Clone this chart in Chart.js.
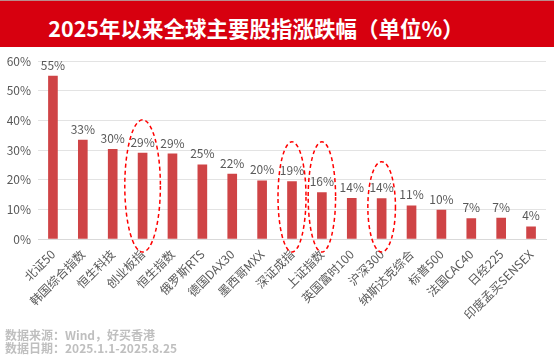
<!DOCTYPE html>
<html>
<head>
<meta charset="utf-8">
<script src="https://cdn.jsdelivr.net/npm/chart.js@4.4.1/dist/chart.umd.min.js"></script>
<style>
  html, body { margin: 0; padding: 0; background: #ffffff; }
  body { width: 554px; height: 359px; position: relative; overflow: hidden; font-family: "Noto Sans CJK SC", "Noto Sans", sans-serif; }
  #header { position: absolute; left: 0; top: 0; width: 554px; height: 47px; background: #D7000F; border-top: 1px solid #b98c8c; box-sizing: border-box; }
  #title { position: absolute; left: 0; top: 0; width: 512px; height: 47px; line-height: 54px; text-align: center; color: #ffffff; font-weight: bold; font-size: 21.5px; white-space: nowrap; }
  #wrap { position: absolute; left: 0; top: 47px; width: 554px; height: 292px; }
  #footer { position: absolute; left: 5px; top: 328px; color: #BFBFBF; font-weight: bold; font-size: 12px; line-height: 13px; white-space: nowrap; }
</style>
</head>
<body>
<div id="header"><div id="title">2025年以来全球主要股指涨跌幅（单位%）</div></div>
<div id="wrap"><canvas id="c" width="554" height="292"></canvas></div>
<div id="footer">数据来源：Wind，好买香港<br>数据日期：2025.1.1-2025.8.25</div>
<script>
const categories = ["北证50","韩国综合指数","恒生科技","创业板指","恒生指数","俄罗斯RTS","德国DAX30","墨西哥MXX","深证成指","上证指数","英国富时100","沪深300","纳斯达克综合","标普500","法国CAC40","日经225","印度孟买SENSEX"];
const values = [55, 33.4, 30.3, 29.0, 28.7, 25.0, 21.9, 19.6, 19.4, 15.7, 13.7, 13.6, 11.2, 9.8, 6.9, 7.1, 4.1];
const yTicks = [0, 10, 20, 30, 40, 50, 60];
// highlighted categories (dashed ellipses): index, top value, bottom value, half-width in px
const highlightIndex = [3, 8, 9, 11];
const highlightTop = [40.2, 32.8, 32.8, 26.1];
const highlightBottom = [-4.4, -4.4, -4.4, -4.4];
const highlightRx = [17.8, 14, 13.7, 13.8];

const labelPlugin = {
  id: 'vlabels',
  afterDatasetsDraw(chart) {
    const ctx = chart.ctx;
    const meta = chart.getDatasetMeta(0);
    ctx.save();
    ctx.fillStyle = '#595959';
    ctx.font = '12px "Noto Sans CJK SC", "Noto Sans", sans-serif';
    ctx.textAlign = 'center';
    ctx.textBaseline = 'middle';
    meta.data.forEach((bar, i) => {
      ctx.fillText(Math.round(values[i]) + '%', bar.x, bar.y - 11);
    });
    ctx.restore();
  }
};

const ellipsePlugin = {
  id: 'ellipses',
  afterDraw(chart) {
    const ctx = chart.ctx;
    const xs = chart.scales.x, ys = chart.scales.y;
    ctx.save();
    ctx.strokeStyle = '#FF0000';
    ctx.lineWidth = 1.5;
    ctx.setLineDash([4, 3]);
    highlightIndex.forEach((idx, k) => {
      const cx = xs.getPixelForValue(idx);
      const top = ys.getPixelForValue(highlightTop[k]);
      const bottom = ys.getPixelForValue(highlightBottom[k]);
      ctx.beginPath();
      ctx.ellipse(cx, (top + bottom) / 2, highlightRx[k], (bottom - top) / 2, 0, 0, Math.PI * 2);
      ctx.stroke();
    });
    ctx.restore();
  }
};

new Chart(document.getElementById('c'), {
  type: 'bar',
  data: {
    labels: categories,
    datasets: [{ data: values, backgroundColor: '#CF4446', barThickness: 9 }]
  },
  options: {
    responsive: false,
    animation: false,
    devicePixelRatio: 1,
    layout: { padding: { top: 12, right: 8, left: 0, bottom: 0 } },
    plugins: { legend: { display: false }, tooltip: { enabled: false } },
    scales: {
      x: {
        grid: { display: false, drawTicks: false },
        border: { color: '#D9D9D9', width: 1 },
        ticks: {
          color: '#595959',
          font: { size: 12, family: '"Noto Sans CJK SC", "Noto Sans", sans-serif' },
          maxRotation: 45, minRotation: 45, autoSkip: false, padding: 8
        },
        afterFit(s) { s.height = 100; }
      },
      y: {
        min: 0, max: 60,
        afterBuildTicks(s) { s.ticks = yTicks.map(v => ({ value: v })); },
        grid: { color: '#E3E3E3', drawTicks: false },
        border: { display: false },
        ticks: {
          color: '#595959',
          font: { size: 12, family: '"Noto Sans CJK SC", "Noto Sans", sans-serif' },
          padding: 7,
          callback: v => v + '%'
        },
        afterFit(s) { s.width = 38; }
      }
    }
  },
  plugins: [labelPlugin, ellipsePlugin]
});
</script>
</body>
</html>
